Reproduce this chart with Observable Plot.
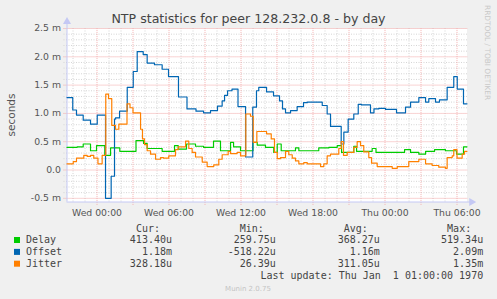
<!DOCTYPE html>
<html><head><meta charset="utf-8">
<script src="https://cdn.jsdelivr.net/npm/d3@7"></script>
<script src="https://cdn.jsdelivr.net/npm/@observablehq/plot@0.6"></script>
<style>
html,body{margin:0;padding:0;background:#f0f0f0;}
#wrap{position:relative;width:497px;height:299px;overflow:hidden;background:#f0f0f0;}
#wrap svg{position:absolute;left:0;top:0;}
</style></head>
<body><div id="wrap"></div>
<script>
// ---- data (hours relative to Wed 00:00, values in milliseconds) ----
const seriesNames = ["Delay", "Offset", "Jitter"];
const seriesColors = ["#00cc00", "#0066b3", "#ff8000"];

const delayT = [-2.5,-1.65,-1.15,-0.54,-0.04,0.65,1.13,1.90,3.25,3.88,4.18,5.43,6.46,6.77,7.46,8.21,8.88,9.71,10.29,11.13,11.38,11.96,13.00,13.35,14.04,14.73,15.02,15.35,16.54,16.82,18.48,19.32,20.02,20.38,21.40,21.63,22.93,23.25,25.63,26.13,26.82,27.38,28.13,29.04,29.96,30.54,30.83];
const delayV = [0.40,0.41,0.46,0.34,0.43,0.26,0.39,0.33,0.52,0.47,0.38,0.33,0.43,0.37,0.46,0.42,0.40,0.51,0.34,0.49,0.41,0.34,0.49,0.44,0.40,0.31,0.46,0.34,0.39,0.34,0.39,0.40,0.43,0.31,0.42,0.33,0.38,0.31,0.36,0.31,0.28,0.33,0.36,0.34,0.28,0.41,0.41];

const offsetT = [-2.5,-2.02,-1.71,-1.15,-0.54,0.02,0.71,1.18,1.46,1.54,1.88,2.52,3.02,3.35,3.85,4.18,4.79,5.43,5.96,6.79,7.50,8.25,8.88,9.46,10.04,10.43,10.63,10.88,11.25,11.75,12.38,12.98,13.29,13.48,14.13,14.71,15.21,15.46,15.71,16.13,16.68,17.21,17.52,18.77,19.18,19.46,20.35,20.57,20.93,21.40,21.77,22.04,22.79,23.08,23.48,24.04,24.96,25.71,26.13,26.82,27.38,27.65,28.21,28.54,29.18,29.73,30.02,30.54,30.83];
const offsetV = [1.28,1.06,0.97,0.88,0.81,0.97,-0.50,-0.11,0.90,0.92,1.04,1.46,1.74,2.09,2.04,1.89,1.86,1.78,1.65,1.29,1.08,1.04,1.01,1.05,1.13,1.22,1.32,1.40,1.43,1.12,0.23,1.11,1.40,1.46,1.38,1.31,1.22,1.08,1.01,1.05,1.12,1.19,1.20,1.14,0.99,0.77,0.46,0.67,0.90,0.99,1.16,1.15,1.01,1.08,1.09,1.07,1.01,1.11,1.20,1.28,1.20,1.26,1.20,1.24,1.46,1.65,1.43,1.17,1.17];

const jitterT = [-2.5,-1.98,-1.71,-1.10,-0.82,-0.54,-0.27,0.08,0.43,0.73,0.96,1.23,1.54,1.82,2.50,2.75,3.00,3.63,3.79,3.96,4.18,4.46,4.88,5.29,5.54,5.98,6.54,6.77,7.38,7.65,7.93,8.21,8.77,9.18,9.73,10.15,10.43,10.93,11.13,11.68,11.96,12.40,12.79,13.02,13.32,14.13,14.52,14.79,15.02,15.29,15.71,15.98,16.27,16.54,16.82,17.23,17.52,18.63,18.90,19.18,19.46,20.15,20.35,20.54,20.85,21.40,21.68,21.96,22.23,22.65,22.88,23.35,24.60,25.02,25.98,26.82,27.38,27.93,28.48,29.04,29.18,29.60,29.73,30.00,30.43,30.63,30.83];
const jitterV = [0.11,0.15,0.21,0.26,0.24,0.26,0.21,0.11,0.26,1.34,1.26,0.79,0.72,0.81,1.17,1.10,1.01,0.72,0.55,0.45,0.34,0.28,0.19,0.22,0.21,0.25,0.36,0.41,0.51,0.38,0.31,0.23,0.14,0.06,0.09,0.19,0.27,0.33,0.29,0.31,0.25,0.99,0.95,0.49,0.68,0.64,0.55,0.31,0.20,0.22,0.33,0.27,0.21,0.16,0.11,0.13,0.11,0.06,0.11,0.25,0.28,0.38,0.50,0.26,0.31,0.40,0.50,0.43,0.32,0.22,0.12,0.06,0.03,0.06,0.15,0.19,0.11,0.08,0.05,0.03,0.22,0.25,0.36,0.21,0.28,0.33,0.33];

const xTicks = [0, 6, 12, 18, 24, 30];
const xTickLabels = ["Wed 00:00", "Wed 06:00", "Wed 12:00", "Wed 18:00", "Thu 00:00", "Thu 06:00"];
const yTicks = [-0.5, 0, 0.5, 1, 1.5, 2, 2.5];
const yTickLabels = ["-0.5 m", "0.0", "0.5 m", "1.0 m", "1.5 m", "2.0 m", "2.5 m"];

const legendHeaders = ["Cur:", "Min:", "Avg:", "Max:"];
const curVals = ["413.40u", "1.18m", "328.18u"];
const minVals = ["259.75u", "-518.22u", "26.39u"];
const avgVals = ["368.27u", "1.16m", "311.05u"];
const maxVals = ["519.34u", "2.09m", "1.35m"];

const titleText = "NTP statistics for peer 128.232.0.8 - by day";
const yLabel = "seconds";
const sideText = "RRDTOOL / TOBI OETIKER";
const lastUpdate = "Last update: Thu Jan  1 01:00:00 1970";
const footer = "Munin 2.0.75";

// ---- build ----
const xDomain = [-2.5, 30.833];
const yDomain = [-0.565, 2.5];
const rows = [];
[[delayT, delayV], [offsetT, offsetV], [jitterT, jitterV]].forEach(([T, V], i) => {
  T.forEach((t, j) => rows.push({series: seriesNames[i], t, v: V[j]}));
});
const xMajor = d3.range(0, 31, 3);
const xMinor = d3.range(-2, 31, 1).filter(h => h % 3 !== 0);
const yMinor = d3.range(-5, 26, 1).map(d => +(d / 10).toFixed(1)).filter(v => !yTicks.includes(v));

const axisColor = "#c4c8f4";
const chart = Plot.plot({
  width: 497, height: 299,
  marginLeft: 66.5, marginRight: 30.5, marginTop: 28, marginBottom: 97.5,
  style: {background: "transparent", fontFamily: "DejaVu Sans", fontSize: "9.3px", color: "#555", overflow: "visible"},
  x: {domain: xDomain},
  y: {domain: yDomain},
  color: {domain: seriesNames, range: seriesColors},
  marks: [
    Plot.frame({fill: "white", stroke: null}),
    Plot.ruleY(yMinor, {x1: xDomain[0] - 0.25, x2: xDomain[1] + 0.1, stroke: "#d4d4d4", strokeDasharray: "1,1.5"}),
    Plot.ruleX(xMinor, {y1: yDomain[0], y2: yDomain[1], stroke: "#d4d4d4", strokeDasharray: "1,1.5"}),
    Plot.ruleY(yTicks, {x1: xDomain[0] - 0.25, x2: xDomain[1] + 0.1, stroke: "#f2a6a6", strokeDasharray: "1,1"}),
    Plot.ruleX(xMajor, {y1: yDomain[0] - 0.06, y2: yDomain[1], stroke: "#f4b0b0", strokeDasharray: "1,1"}),
    Plot.axisY({ticks: yTicks, tickFormat: d => yTickLabels[yTicks.indexOf(d)], tickSize: 0, tickPadding: 6, label: null, fill: "#555"}),
    Plot.axisX({ticks: xTicks, tickFormat: d => xTickLabels[xTicks.indexOf(d)], tickSize: 0, tickPadding: 7.5, label: null, fill: "#555"}),
    Plot.ruleX([xDomain[0]], {y1: yDomain[0], y2: yDomain[1] + 0.09, stroke: axisColor}),
    Plot.ruleY([yDomain[0]], {x1: xDomain[0], x2: xDomain[1] + 0.3, stroke: axisColor}),
    Plot.dot([0], {x: xDomain[1] + 0.38, y: yDomain[0], symbol: "triangle", r: 3, rotate: 90, fill: axisColor, stroke: null}),
    Plot.dot([0], {x: xDomain[0], y: yDomain[1] + 0.12, symbol: "triangle", r: 3, fill: axisColor, stroke: null}),
    Plot.line(rows, {x: "t", y: "v", z: "series", stroke: "series", curve: "step-after", strokeWidth: 1.2})
  ]
});
const wrap = document.getElementById("wrap");
wrap.appendChild(chart);

// ---- texts (title, labels, legend) ----
const o = d3.select(wrap).append("svg").attr("width", 497).attr("height", 299);
o.append("text").attr("x", 248.5).attr("y", 23).attr("text-anchor", "middle")
  .style("font", "12.6px 'DejaVu Sans'").attr("fill", "#444").text(titleText);
o.append("text").attr("transform", "translate(15,115) rotate(-90)").attr("text-anchor", "middle")
  .style("font", "10.5px 'DejaVu Sans'").attr("fill", "#555").text(yLabel);
o.append("text").attr("transform", "translate(485,5) rotate(90)")
  .style("font", "7.4px 'DejaVu Sans'").attr("fill", "#c8c8c8").text(sideText);

const mono = "10px 'DejaVu Sans Mono'";
const colEnds = [172, 275.8, 379.8, 483.2];
const hdrY = 231.5, rowY = [243.3, 255.2, 267];
legendHeaders.forEach((h, i) => {
  o.append("text").attr("x", colEnds[i] - 12).attr("y", hdrY).attr("text-anchor", "end")
    .style("font", mono).attr("fill", "#444").text(h);
});
const cols = [curVals, minVals, avgVals, maxVals];
seriesNames.forEach((name, r) => {
  o.append("rect").attr("x", 14).attr("y", rowY[r] - 6.3).attr("width", 6).attr("height", 6).attr("fill", seriesColors[r]);
  o.append("text").attr("x", 26).attr("y", rowY[r]).style("font", mono).attr("fill", "#444").text(name);
  cols.forEach((c, i) => {
    o.append("text").attr("x", colEnds[i]).attr("y", rowY[r]).attr("text-anchor", "end")
      .style("font", mono).attr("fill", "#444").text(c[r]);
  });
});
o.append("text").attr("x", 483.2).attr("y", 278.6).attr("text-anchor", "end")
  .style("font", mono).style("white-space", "pre").attr("fill", "#444").text(lastUpdate);
o.append("text").attr("x", 248).attr("y", 290.5).attr("text-anchor", "middle")
  .style("font", "7px 'DejaVu Sans'").attr("fill", "#c4c4c4").text(footer);
</script>
</body></html>
